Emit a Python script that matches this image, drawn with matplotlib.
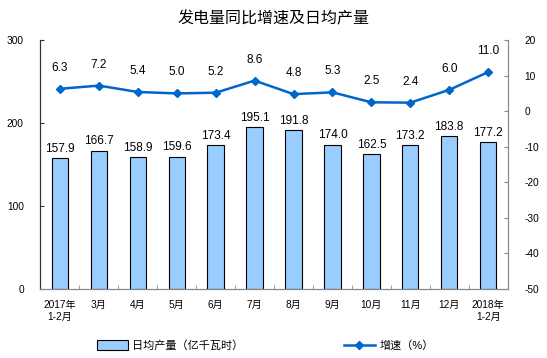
import matplotlib.pyplot as plt
import numpy as np

plt.rcParams['font.family'] = ['Liberation Sans', 'Noto Sans CJK SC']
plt.rcParams['axes.unicode_minus'] = False

months = ['2017年\n1-2月', '3月', '4月', '5月', '6月', '7月', '8月', '9月',
          '10月', '11月', '12月', '2018年\n1-2月']
output = [157.9, 166.7, 158.9, 159.6, 173.4, 195.1, 191.8, 174.0, 162.5, 173.2, 183.8, 177.2]
growth = [6.3, 7.2, 5.4, 5.0, 5.2, 8.6, 4.8, 5.3, 2.5, 2.4, 6.0, 11.0]

fig = plt.figure(figsize=(5.47, 3.58), dpi=100)
ax = fig.add_axes([0.074, 0.193, 0.854, 0.695])
x = np.arange(len(months))

ax.bar(x, output, width=0.42, color='#99ccff', edgecolor='black', linewidth=0.8,
       label='日均产量（亿千瓦时）', zorder=2)
for xi, v in zip(x, output):
    ax.text(xi, v + 4, '%.1f' % v, ha='center', va='bottom', fontsize=8.5)

ax.set_xlim(-0.5, len(months) - 0.5)
ax.set_ylim(0, 300)
ax.set_yticks([0, 100, 200, 300])
ax.set_xticks(x)
ax.set_xticklabels(months, fontsize=7.3)
ax.set_xticks(np.arange(-0.5, len(months), 1), minor=True)
ax.tick_params(axis='x', which='major', length=0, pad=8)
ax.tick_params(axis='x', which='minor', length=3, direction='in', color='#888888')
ax.tick_params(axis='y', direction='in', length=3, labelsize=7.3, color='#333333', pad=12)
ax.spines['top'].set_visible(False)
ax.spines['left'].set_color('#333333')
ax.spines['right'].set_color('#888888')
ax.spines['bottom'].set_color('#888888')

ax2 = ax.twinx()
ax2.plot(x, growth, color='#0066cc', marker='D', markersize=4, linewidth=1.8,
         label='增速（%）', zorder=3)
for xi, v in zip(x, growth):
    ax2.text(xi, v + 4.2, '%.1f' % v, ha='center', va='bottom', fontsize=8.5)
ax2.set_ylim(-50, 20)
ax2.set_yticks(np.arange(-50, 21, 10))
ax2.tick_params(axis='y', direction='in', length=3, labelsize=7.3, color='#888888', pad=12)
ax2.spines['top'].set_visible(False)
ax2.spines['left'].set_color('#333333')
ax2.spines['right'].set_color('#888888')
ax2.spines['bottom'].set_color('#888888')

fig.text(0.5, 0.948, '发电量同比增速及日均产量', ha='center', va='center', fontsize=11.5)

h1, l1 = ax.get_legend_handles_labels()
h2, l2 = ax2.get_legend_handles_labels()
fig.legend(h1 + h2, l1 + l2, loc='center', bbox_to_anchor=(0.485, 0.035), ncol=2,
           frameon=False, fontsize=8, columnspacing=9, handlelength=2.8,
           handleheight=0.9, handletextpad=0.4)

fig.savefig('out.png', dpi=100)
